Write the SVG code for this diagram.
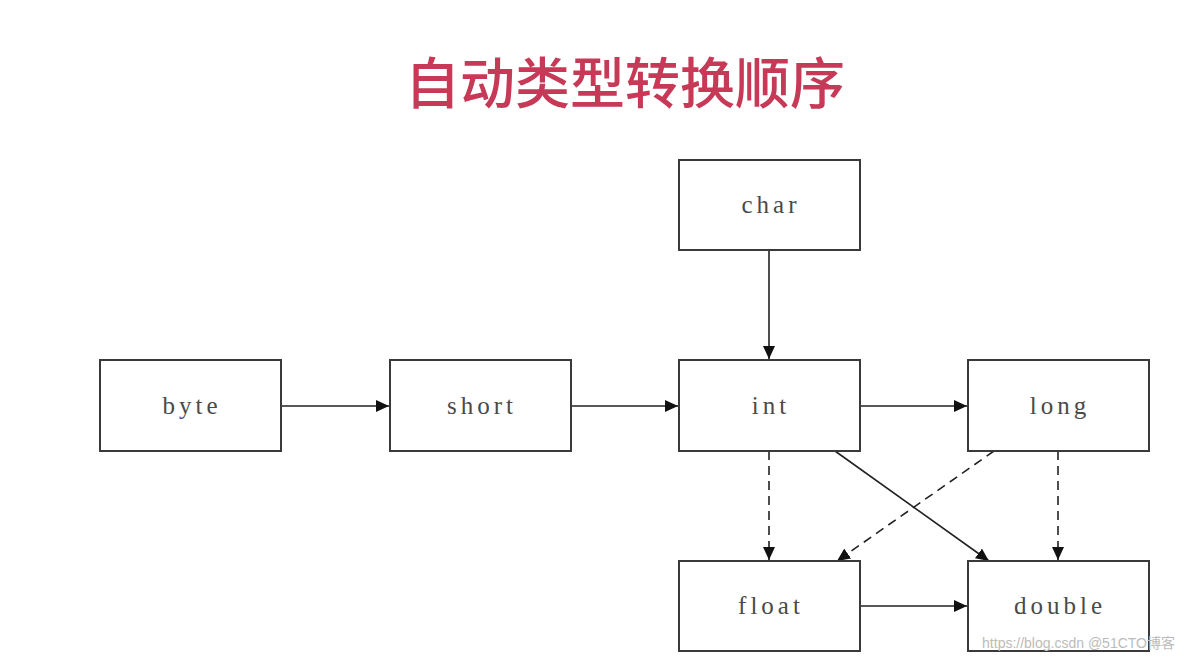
<svg xmlns="http://www.w3.org/2000/svg" width="1184" height="660" viewBox="0 0 1184 660">
<style>
.box{fill:#fff;stroke:#3a3a3a;stroke-width:2}
.lbl{font-family:"Liberation Serif","DejaVu Serif",serif;font-size:25px;letter-spacing:4px;fill:#4a4a4a;text-anchor:middle}
.c{stroke:#222;stroke-width:1.6;fill:none}
.d{stroke-dasharray:9 6}
</style>
<defs>
<marker id="ah" markerUnits="userSpaceOnUse" markerWidth="14" markerHeight="12" refX="13" refY="6" orient="auto">
<path d="M0,0 L13,6 L0,12 Z" fill="#111"/>
</marker>
</defs>
<rect width="1184" height="660" fill="#fff"/>
<text x="625" y="103" font-family="'Noto Sans CJK SC',sans-serif" font-size="55" font-weight="500" fill="#c63a58" text-anchor="middle">自动类型转换顺序</text>
<g id="connectors">
<line class="c" x1="281" y1="406" x2="389" y2="406" marker-end="url(#ah)"/>
<line class="c" x1="571" y1="406" x2="678" y2="406" marker-end="url(#ah)"/>
<line class="c" x1="860" y1="406" x2="967" y2="406" marker-end="url(#ah)"/>
<line class="c" x1="769" y1="250" x2="769" y2="359" marker-end="url(#ah)"/>
<line class="c" x1="860" y1="606" x2="967" y2="606" marker-end="url(#ah)"/>
<line class="c d" x1="769" y1="451" x2="769" y2="560" marker-end="url(#ah)"/>
<line class="c d" x1="1058" y1="451" x2="1058" y2="560" marker-end="url(#ah)"/>
<line class="c" x1="835" y1="451" x2="989" y2="561" marker-end="url(#ah)"/>
<line class="c d" x1="994" y1="451" x2="837" y2="561" marker-end="url(#ah)"/>
</g>
<g id="char"><rect class="box" x="679" y="160" width="181" height="90"/><text class="lbl" x="771" y="213">char</text></g>
<g id="byte"><rect class="box" x="100" y="360" width="181" height="91"/><text class="lbl" x="192" y="414">byte</text></g>
<g id="short"><rect class="box" x="390" y="360" width="181" height="91"/><text class="lbl" x="482" y="414">short</text></g>
<g id="int"><rect class="box" x="679" y="360" width="181" height="91"/><text class="lbl" x="771" y="414">int</text></g>
<g id="long"><rect class="box" x="968" y="360" width="181" height="91"/><text class="lbl" x="1060" y="414">long</text></g>
<g id="float"><rect class="box" x="679" y="561" width="181" height="90"/><text class="lbl" x="771" y="614">float</text></g>
<g id="double"><rect class="box" x="968" y="561" width="181" height="90"/><text class="lbl" x="1060" y="614">double</text></g>
<text x="1175" y="648" font-family="'Liberation Sans','Noto Sans CJK SC',sans-serif" font-size="14" fill="#bbb" text-anchor="end">https://blog.csdn @51CTO博客</text>
</svg>
